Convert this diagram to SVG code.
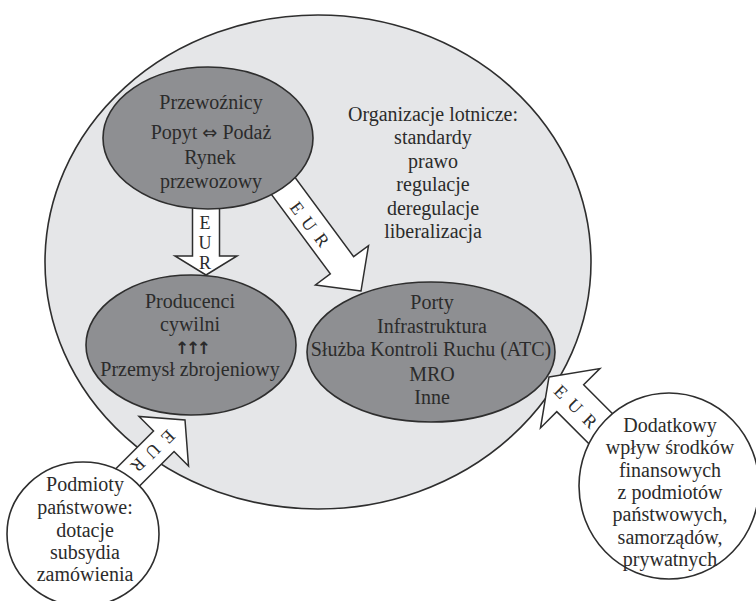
<svg xmlns="http://www.w3.org/2000/svg" width="756" height="601" viewBox="0 0 756 601">
<style>
.bg{fill:#ffffff}
.big{fill:#e5e6e8;stroke:#2e2e2e;stroke-width:1.6}
.ell{fill:#8e8f92;stroke:#2e2e2e;stroke-width:1.6}
.src{fill:#ffffff;stroke:#2e2e2e;stroke-width:1.6}
.arr{fill:#ffffff;stroke:#2e2e2e;stroke-width:1.5;stroke-linejoin:miter}
text{font-family:"Liberation Serif","DejaVu Serif",serif;font-size:20px;fill:#2b2b2b;text-anchor:middle}
.eur{font-size:18px;dominant-baseline:central}
.sym{font-family:"DejaVu Sans","Liberation Serif",sans-serif}
.up{font-family:"DejaVu Sans",sans-serif;font-size:17px;font-weight:bold}
</style>
<rect class="bg" x="0" y="0" width="756" height="601"/>
<g id="environment">
<ellipse class="big" cx="318" cy="262" rx="273" ry="247"/>
<g id="organizacje">
<text x="433" y="121">Organizacje lotnicze:</text>
<text x="433" y="144.4">standardy</text>
<text x="433" y="167.8">prawo</text>
<text x="433" y="191.2">regulacje</text>
<text x="433" y="214.6">deregulacje</text>
<text x="433" y="238">liberalizacja</text>
</g>
</g>
<g id="connectors">
<polygon class="arr" transform="translate(206,275) rotate(90)" points="0,0 -19,31 -19,13.5 -80,13.5 -80,-13.5 -19,-13.5 -19,-31"/>
<polygon class="arr" transform="translate(361,291) rotate(53.5)" points="0,0 -32,33 -32,14.5 -140,14.5 -140,-14.5 -32,-14.5 -32,-33"/>
<polygon class="arr" transform="translate(185,420) rotate(-45)" points="0,0 -30,35 -30,14.5 -130,14.5 -130,-14.5 -30,-14.5 -30,-35"/>
<polygon class="arr" transform="translate(549,377) rotate(-135)" points="0,0 -30,42 -30,19 -150,19 -150,-19 -30,-19 -30,-42"/>
<g id="eur-labels">
<text class="eur" x="205" y="223">E</text>
<text class="eur" x="205" y="243">U</text>
<text class="eur" x="205" y="263">R</text>
<text class="eur" transform="translate(297,208) rotate(53.5)">E</text>
<text class="eur" transform="translate(309,224) rotate(53.5)">U</text>
<text class="eur" transform="translate(322,240) rotate(53.5)">R</text>
<text class="eur" transform="translate(168,437) rotate(135)">E</text>
<text class="eur" transform="translate(153,451) rotate(135)">U</text>
<text class="eur" transform="translate(138,465) rotate(135)">R</text>
<text class="eur" transform="translate(561,392) rotate(45)">E</text>
<text class="eur" transform="translate(575,406) rotate(45)">U</text>
<text class="eur" transform="translate(590,421) rotate(45)">R</text>
</g>
</g>
<g id="przewoznicy">
<ellipse class="ell" cx="208" cy="138" rx="105" ry="71"/>
<text x="211" y="109">Przewoźnicy</text>
<text x="211" y="139">Popyt <tspan class="sym" font-size="18">⇔</tspan> Podaż</text>
<text x="210" y="164">Rynek</text>
<text x="211" y="188">przewozowy</text>
</g>
<g id="producenci">
<ellipse class="ell" cx="191" cy="345" rx="105" ry="70"/>
<text x="190" y="308">Producenci</text>
<text x="190" y="331">cywilni</text>
<text class="up" x="193" y="354" textLength="36" lengthAdjust="spacing">↑↑↑</text>
<text x="190" y="376">Przemysł zbrojeniowy</text>
</g>
<g id="porty">
<ellipse class="ell" cx="431" cy="352" rx="124" ry="70"/>
<text x="432" y="309">Porty</text>
<text x="432" y="333">Infrastruktura</text>
<text x="431" y="356">Służba Kontroli Ruchu (ATC)</text>
<text x="432" y="381">MRO</text>
<text x="432" y="404">Inne</text>
</g>
<g id="podmioty">
<ellipse class="src" cx="83" cy="534" rx="76" ry="72"/>
<text x="85" y="491">Podmioty</text>
<text x="85" y="514">państwowe:</text>
<text x="85" y="537">dotacje</text>
<text x="85" y="559">subsydia</text>
<text x="85" y="581">zamówienia</text>
</g>
<g id="dodatkowy">
<ellipse class="src" cx="669" cy="486" rx="90" ry="93"/>
<text x="670" y="432">Dodatkowy</text>
<text x="670" y="454">wpływ środków</text>
<text x="670" y="476.5">finansowych</text>
<text x="670" y="499">z podmiotów</text>
<text x="670" y="521">państwowych,</text>
<text x="670" y="543.5">samorządów,</text>
<text x="670" y="566">prywatnych</text>
</g>
</svg>
